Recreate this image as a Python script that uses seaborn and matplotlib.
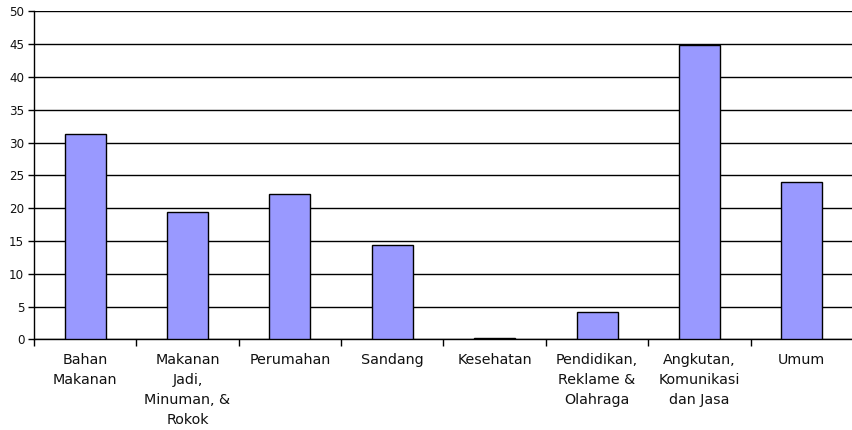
import matplotlib
matplotlib.use("Agg")
import matplotlib.pyplot as plt
import numpy as np
import pandas as pd
import seaborn as sns

# kategori pengeluaran dan nilainya
kategori = ["Bahan\nMakanan", "Makanan\nJadi,\nMinuman, &\nRokok", "Perumahan",
            "Sandang", "Kesehatan", "Pendidikan,\nReklame &\nOlahraga",
            "Angkutan,\nKomunikasi\ndan Jasa", "Umum"]
nilai = [31.3, 19.45, 22.2, 14.4, 0.2, 4.1, 44.9, 24.0]
y_ticks = [0, 5, 10, 15, 20, 25, 30, 35, 40, 45, 50]

sns.set_style("white")
plt.rcParams["font.family"] = ["DejaVu Sans"]

df = pd.DataFrame({"kategori": kategori, "nilai": nilai})

fig = plt.figure(figsize=(8.53, 4.30), dpi=100)
ax = fig.add_axes([34 / 853, 1 - 339.3 / 430, 1 - 34 / 853, (339.3 - 11.3) / 430])

sns.barplot(data=df, x="kategori", y="nilai", color="#9999FF", saturation=1,
            edgecolor="black", linewidth=1, width=0.4, ax=ax, zorder=3)

ax.set_ylim(0, 50)
ax.set_xlim(-0.5, len(kategori) - 0.5)
ax.set_yticks(y_ticks)
ax.yaxis.grid(True, color="black", linewidth=1)
ax.set_axisbelow(True)

# tick marks di batas kategori, label di tengah
ax.set_xticks(np.arange(len(kategori)))
ax.set_xticklabels(kategori, fontsize=10.3, linespacing=1.55, va="top", color="#111111")
ax.set_xticks(np.arange(-0.5, len(kategori)), minor=True)
ax.tick_params(axis="x", which="major", bottom=True, length=0, pad=10)
ax.tick_params(axis="x", which="minor", bottom=True, length=5, width=1,
               color="black", direction="out")
ax.tick_params(axis="y", left=True, length=4, width=1, color="black",
               direction="out", labelsize=8.6, pad=3, labelcolor="#111111")

for s in ["top", "right"]:
    ax.spines[s].set_visible(False)
for s in ["left", "bottom"]:
    ax.spines[s].set_color("black")
    ax.spines[s].set_linewidth(1)

ax.set_xlabel("")
ax.set_ylabel("")

fig.savefig("out.png", dpi=100)
